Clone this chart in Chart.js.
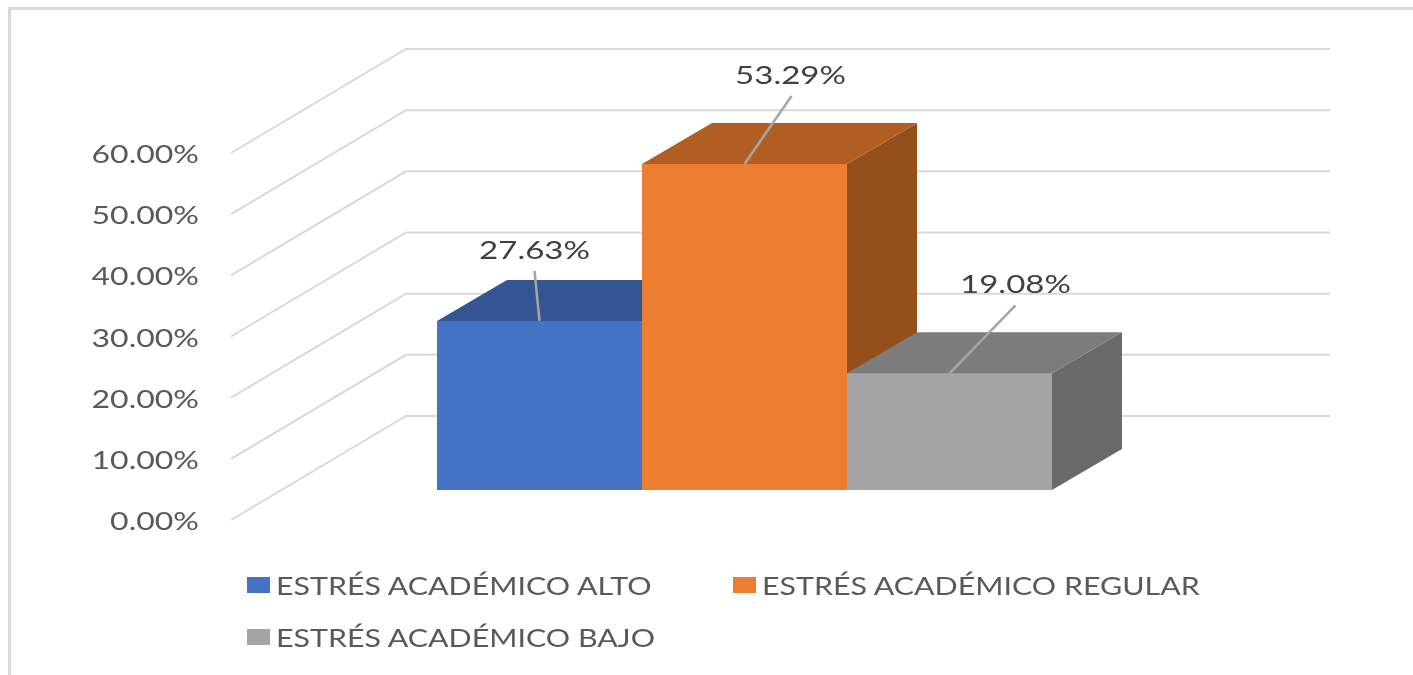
<!DOCTYPE html>
<html>
<head>
<meta charset="utf-8">
<script src="https://cdn.jsdelivr.net/npm/chart.js@4"></script>
<style>
  html, body { margin: 0; padding: 0; background: #fff; }
  #wrap { position: relative; width: 1413px; height: 675px; overflow: hidden; }
  #frame { position: absolute; left: 8px; top: 7px; right: -10px; bottom: -10px; border: 3px solid #d9d9d9; }
  #dash { position: absolute; left: 0; top: 0; }
  #legend { position: absolute; left: 247px; top: 559px; display: grid; grid-template-columns: 486px auto; }
  .item { display: flex; align-items: center; height: 52px; font: 25px Lato, sans-serif; color: #595959; white-space: nowrap; }
  .item i { display: block; flex: none; width: 23px; height: 16px; margin-right: 6px; }
  .item span { display: inline-block; transform: scaleX(1.215); transform-origin: left center; }
</style>
</head>
<body>
<div id="wrap">
  <div id="frame"></div>
  <canvas id="dash" width="1413" height="675"></canvas>
  <div id="legend"></div>
</div>
<script>
const categories = ['Estrés académico'];
const seriesNames = ['ESTRÉS ACADÉMICO ALTO', 'ESTRÉS ACADÉMICO REGULAR', 'ESTRÉS ACADÉMICO BAJO'];
const seriesValues = [27.63, 53.29, 19.08];
const tickValues = [0, 10, 20, 30, 40, 50, 60];

const frontColors = ['#4472c4', '#ed7d31', '#a5a5a5'];
const topColors = ['#335593', '#b15e23', '#7c7c7c'];
const sideColors = ['#2a4679', '#954f1b', '#696969'];

// 3d look: how far the walls and the bars go back
const wallDepth = { x: 175, y: -104 };
const barDepth = { x: 70, y: -41 };
const barLift = -30;
// the original text is stretched sideways
const tickStretch = 1.28;
const labelStretch = 1.32;
// label place from the middle of the bar top
const labelShift = [[-5, -70], [46, -88], [66, -88]];
const leaderShift = [[-5, -50], [47, -68], [66, -68]];

const wallPlugin = {
  id: 'wall',
  beforeDatasetsDraw(chart) {
    const { ctx, scales, chartArea } = chart;
    ctx.save();
    ctx.strokeStyle = '#d9d9d9';
    ctx.lineWidth = 2;
    tickValues.forEach(function (v) {
      const y = scales.y.getPixelForValue(v);
      ctx.beginPath();
      ctx.moveTo(chartArea.left, y);
      ctx.lineTo(chartArea.left + wallDepth.x, y + wallDepth.y);
      ctx.lineTo(1330, y + wallDepth.y);
      ctx.stroke();
    });
    // top and side faces first, left to right, the fronts go over them
    ctx.translate(0, barLift);
    seriesValues.forEach(function (v, i) {
      const bar = chart.getDatasetMeta(i).data[0];
      const left = bar.x - bar.width / 2;
      const right = bar.x + bar.width / 2;
      ctx.fillStyle = sideColors[i];
      ctx.beginPath();
      ctx.moveTo(right, bar.y);
      ctx.lineTo(right + barDepth.x, bar.y + barDepth.y);
      ctx.lineTo(right + barDepth.x, bar.base + barDepth.y);
      ctx.lineTo(right, bar.base);
      ctx.closePath();
      ctx.fill();
      // one pixel under the front edge so no seam shows
      ctx.fillStyle = topColors[i];
      ctx.beginPath();
      ctx.moveTo(left, bar.y + 1);
      ctx.lineTo(left, bar.y);
      ctx.lineTo(left + barDepth.x, bar.y + barDepth.y);
      ctx.lineTo(right + barDepth.x, bar.y + barDepth.y);
      ctx.lineTo(right, bar.y);
      ctx.lineTo(right, bar.y + 1);
      ctx.closePath();
      ctx.fill();
    });
    ctx.restore();
  },
  beforeDatasetDraw(chart) {
    chart.ctx.save();
    chart.ctx.translate(0, barLift);
  },
  afterDatasetDraw(chart) {
    chart.ctx.restore();
  },
  afterDatasetsDraw(chart) {
    const { ctx } = chart;
    seriesValues.forEach(function (v, i) {
      const bar = chart.getDatasetMeta(i).data[0];
      const top = bar.y + barLift;
      ctx.save();
      ctx.strokeStyle = '#a6a6a6';
      ctx.lineWidth = 2.5;
      ctx.beginPath();
      ctx.moveTo(bar.x + leaderShift[i][0], top + leaderShift[i][1]);
      ctx.lineTo(bar.x, top);
      ctx.stroke();
      ctx.font = '25px Lato';
      ctx.textAlign = 'center';
      ctx.textBaseline = 'middle';
      ctx.fillStyle = '#404040';
      ctx.translate(bar.x + labelShift[i][0], top + labelShift[i][1]);
      ctx.scale(labelStretch, 1);
      ctx.fillText(v.toFixed(2) + '%', 0, 0);
      ctx.restore();
    });
  }
};

new Chart(document.getElementById('dash'), {
  type: 'bar',
  data: {
    labels: categories,
    datasets: seriesNames.map(function (name, i) {
      return {
        label: name,
        data: [seriesValues[i]],
        backgroundColor: frontColors[i],
        clip: false
      };
    })
  },
  options: {
    responsive: false,
    animation: false,
    layout: { padding: { top: 153, bottom: 155, left: 0, right: 155 } },
    datasets: { bar: { categoryPercentage: 0.5988, barPercentage: 1 } },
    plugins: { legend: { display: false }, tooltip: { enabled: false } },
    scales: {
      x: { display: false },
      y: {
        min: 0,
        max: 60,
        afterBuildTicks: function (axis) {
          axis.ticks = tickValues.map(function (v) { return { value: v }; });
        },
        afterFit: function (axis) {
          axis.width = 231;
          // stretch the tick labels from their right edge
          const drawLabels = axis.constructor.prototype.drawLabels;
          axis.drawLabels = function (area) {
            const c = axis.ctx;
            c.save();
            c.translate(199, 2);
            c.scale(tickStretch, 1);
            c.translate(-199, 0);
            drawLabels.call(axis, area);
            c.restore();
          };
        },
        grid: { display: false },
        border: { display: false },
        ticks: {
          padding: 24,
          color: '#595959',
          font: { family: 'Lato', size: 25 },
          callback: function (v) { return v.toFixed(2) + '%'; }
        }
      }
    }
  },
  plugins: [wallPlugin]
});

// legend in html, two columns like the original
seriesNames.forEach(function (name, i) {
  const item = document.createElement('div');
  item.className = 'item';
  const box = document.createElement('i');
  box.style.background = frontColors[i];
  const text = document.createElement('span');
  text.textContent = name;
  item.appendChild(box);
  item.appendChild(text);
  document.getElementById('legend').appendChild(item);
});
</script>
</body>
</html>
